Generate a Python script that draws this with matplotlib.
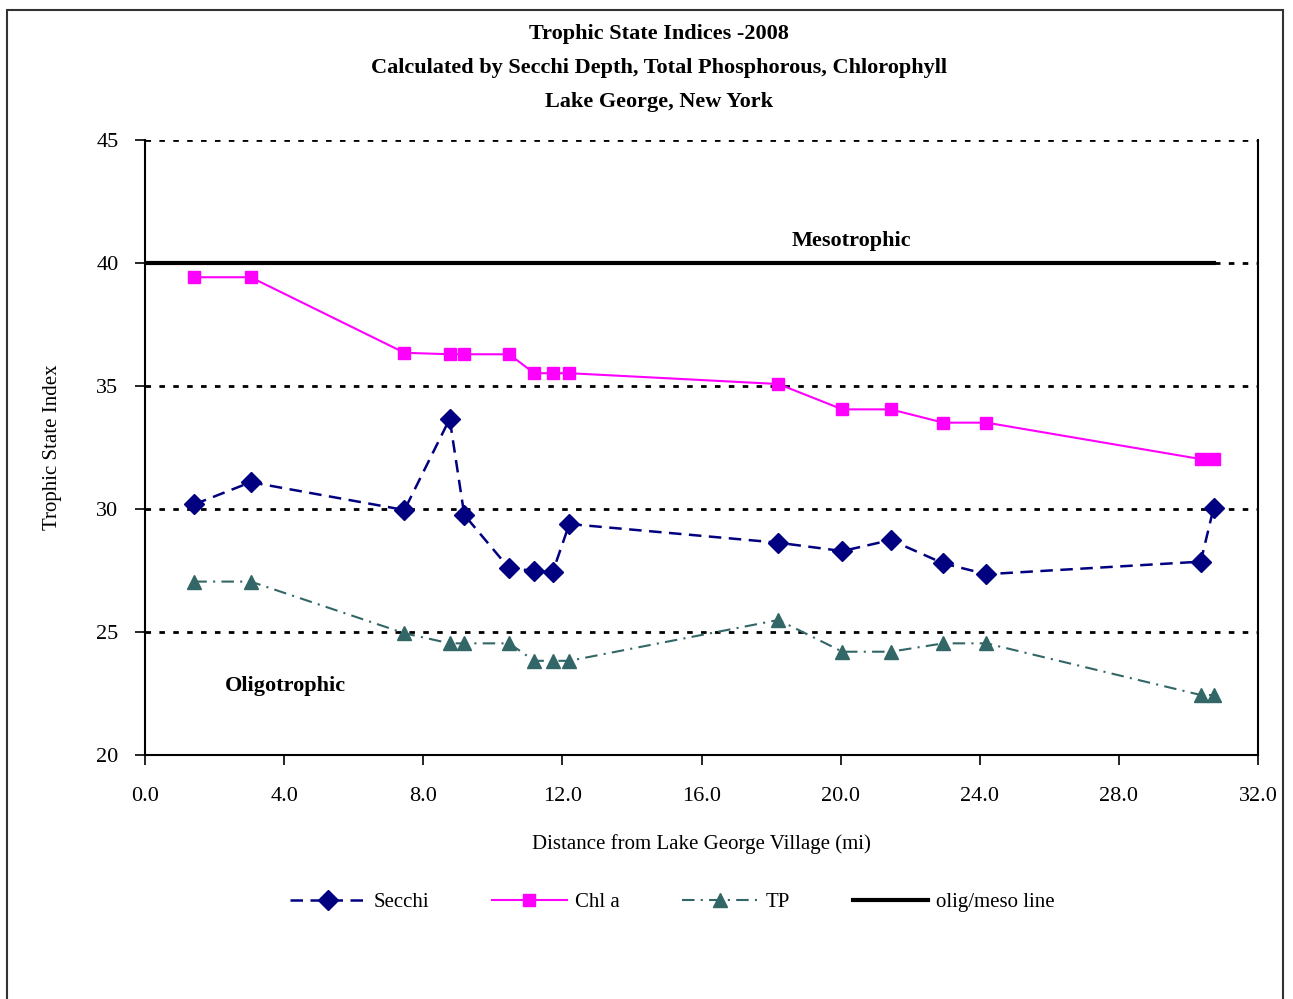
import matplotlib.pyplot as plt
from matplotlib.patches import Rectangle

plt.rcParams['font.family'] = ['Liberation Serif', 'DejaVu Serif']

# Station distances (mi) and trophic state indices
distance = [1.42, 3.04, 7.46, 8.76, 9.18, 10.47, 11.19, 11.72, 12.2,
            18.21, 20.05, 21.44, 22.95, 24.19, 30.35, 30.72]
secchi = [30.19, 31.09, 29.96, 33.66, 29.76, 27.59, 27.49, 27.43, 29.39,
          28.63, 28.29, 28.74, 27.79, 27.35, 27.86, 30.03]
chl_a = [39.42, 39.42, 36.35, 36.29, 36.29, 36.29, 35.52, 35.52, 35.52,
         35.08, 34.05, 34.05, 33.51, 33.51, 32.03, 32.03]
tp = [27.05, 27.05, 24.95, 24.54, 24.54, 24.54, 23.83, 23.83, 23.83,
      25.49, 24.2, 24.2, 24.54, 24.54, 22.44, 22.44]
meso_x = [0.0, 30.72]
meso_y = [40.0, 40.0]

fig = plt.figure(figsize=(12.93, 9.99), dpi=100)
ax = fig.add_axes([0.1121, 0.2442, 0.8609, 0.6157])

# figure border
fig.patches.append(Rectangle((0.0054, -0.05), 0.987, 1.04, transform=fig.transFigure,
                             fill=False, edgecolor='#333333', linewidth=1.5))

ax.plot(distance, secchi, color='#000080', linestyle=(0, (5, 3)), linewidth=1.8,
        marker='D', markersize=10, label='Secchi')
ax.plot(distance, chl_a, color='#FF00FF', linestyle='-', linewidth=1.5,
        marker='s', markersize=8, label='Chl a')
ax.plot(distance, tp, color='#336666', linestyle=(0, (6, 3, 1, 3)), linewidth=1.5,
        marker='^', markersize=10, label='TP')
ax.plot(meso_x, meso_y, color='black', linewidth=3, label='olig/meso line')

ax.set_xlim(0, 32)
ax.set_ylim(20, 45)
ax.set_xticks([0, 4, 8, 12, 16, 20, 24, 28, 32])
ax.set_xticklabels(['0.0', '4.0', '8.0', '12.0', '16.0', '20.0', '24.0', '28.0', '32.0'])
ax.set_yticks([20, 25, 30, 35, 40, 45])
ax.tick_params(direction='out', length=7, width=1.2, labelsize=16)
ax.tick_params(axis='x', pad=16)
ax.tick_params(axis='y', pad=12)

ax.yaxis.grid(True, color='black', linestyle=(0, (2, 3)), linewidth=2)
ax.set_axisbelow(True)
ax.spines['top'].set_visible(False)
for s in ('left', 'right', 'bottom'):
    ax.spines[s].set_linewidth(1.5)

ax.set_xlabel('Distance from Lake George Village (mi)', fontsize=15, labelpad=20)
ax.set_ylabel('Trophic State Index', fontsize=15, labelpad=25)

ax.text(20.3, 40.9, 'Mesotrophic', fontsize=16, fontweight='bold', ha='center', va='center')
ax.text(4.03, 22.8, 'Oligotrophic', fontsize=16, fontweight='bold', ha='center', va='center')

fig.text(0.51, 0.966, 'Trophic State Indices -2008', fontsize=16, fontweight='bold',
         ha='center', va='center')
fig.text(0.51, 0.932, 'Calculated by Secchi Depth, Total Phosphorous, Chlorophyll',
         fontsize=16, fontweight='bold', ha='center', va='center')
fig.text(0.51, 0.898, 'Lake George, New York', fontsize=16, fontweight='bold',
         ha='center', va='center')

fig.legend(loc='center', bbox_to_anchor=(0.52, 0.097), ncol=4, frameon=False,
           fontsize=15, handlelength=3.6, columnspacing=3.0, handletextpad=0.4)

fig.savefig('out.png', dpi=100)
